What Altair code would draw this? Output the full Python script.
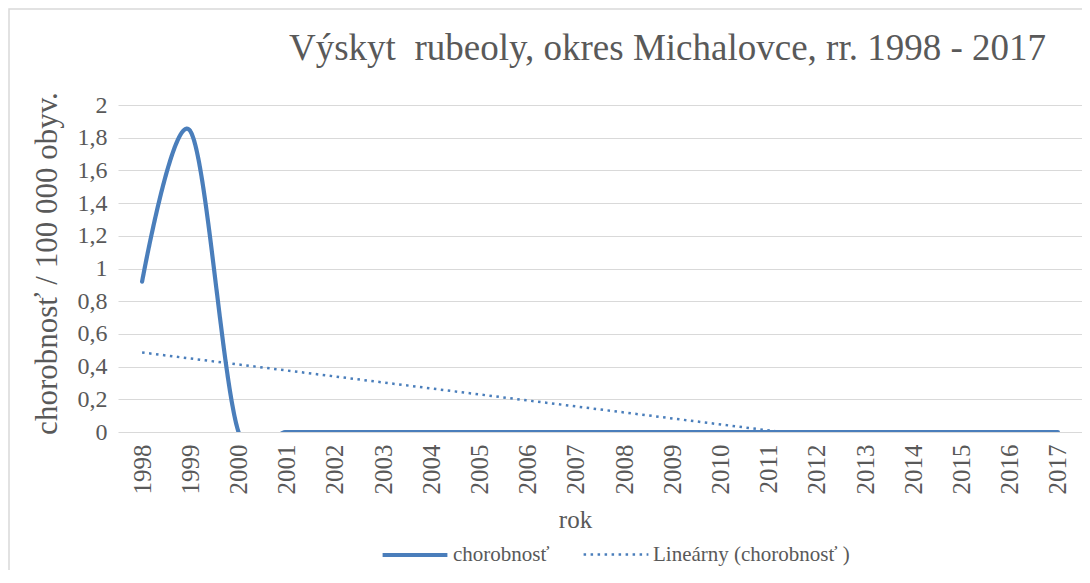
import altair as alt
import pandas as pd

# ---- data ----
years = [1998, 1999, 2000, 2001, 2002, 2003, 2004, 2005, 2006, 2007,
         2008, 2009, 2010, 2011, 2012, 2013, 2014, 2015, 2016, 2017]
incidence = [0.92, 1.84, 0, 0, 0, 0, 0, 0, 0, 0,
             0, 0, 0, 0, 0, 0, 0, 0, 0, 0]
series_names = ["chorobnosť", "Lineárny (chorobnosť )"]
y_ticks = [0, 0.2, 0.4, 0.6, 0.8, 1, 1.2, 1.4, 1.6, 1.8, 2]
title_text = "Výskyt\u00a0 rubeoly, okres Michalovce, rr. 1998 - 2017"

df = pd.DataFrame({"rok": years, "chorobnost": incidence})

BLUE = "#4A7EBB"
FONT = "Liberation Serif"
TXT = "#595959"
GRID = "#d9d9d9"

color_scale = alt.Scale(domain=series_names, range=[BLUE, BLUE])
dash_scale = alt.Scale(domain=series_names, range=[[1, 0], [2.5, 4.5]])
width_scale = alt.Scale(domain=series_names, range=[4.2, 2.5])

legend = alt.Legend(
    title=None, orient="none", legendX=262, legendY=415, direction="horizontal",
    symbolType="stroke", symbolSize=4200, labelFont=FONT, labelFontSize=21,
    labelColor=TXT, columnPadding=28, labelOffset=3, labelLimit=400,
    symbolStrokeColor=BLUE,
)

x_enc = alt.X(
    "rok:Q",
    scale=alt.Scale(domain=[1997.5, 2017.5], nice=False, zero=False),
    axis=alt.Axis(
        values=years, format="d", labelAngle=270, grid=False, ticks=False,
        domain=False, title="rok", labelFont=FONT, labelFontSize=25,
        labelColor=TXT, labelPadding=12, titleFont=FONT, titleFontSize=25,
        titleFontWeight="normal", titleColor=TXT, titleX=457, titleY=95,
        titleBaseline="alphabetic", titleAnchor="start", titleAlign="center",
    ),
)
y_enc = alt.Y(
    "chorobnost:Q",
    scale=alt.Scale(domain=[0, 2], nice=False),
    axis=alt.Axis(
        values=y_ticks, labelExpr="replace(format(datum.value, '.1~f'), '.', ',')",
        grid=True, gridColor=GRID, gridWidth=1, ticks=False, domain=False,
        title="chorobnosť / 100 000 obyv.", labelFont=FONT, labelFontSize=24,
        labelColor=TXT, labelPadding=11, titleFont=FONT, titleFontSize=31,
        titleFontWeight="normal", titleColor=TXT, titleX=-86, titleY=158,
        titleBaseline="top", titleAlign="center", titleAngle=270,
    ),
)

series_enc = dict(
    color=alt.Color("series:N", scale=color_scale, legend=legend),
    strokeDash=alt.StrokeDash("series:N", scale=dash_scale, legend=legend),
    strokeWidth=alt.StrokeWidth("series:N", scale=width_scale, legend=legend),
)

main_line = alt.Chart(df).transform_calculate(
    series=f"'{series_names[0]}'"
).mark_line(
    interpolate="cardinal", clip=True, strokeCap="round"
).encode(x=x_enc, y=y_enc, **series_enc)

trend_line = alt.Chart(df).transform_regression(
    "rok", "chorobnost", method="linear", extent=[1998, 2017]
).transform_calculate(
    series=f"'{series_names[1]}'"
).mark_line(clip=True).encode(x=x_enc, y=y_enc, **series_enc)

frame = alt.Chart(pd.DataFrame({"a": [0]})).mark_rect(
    fillOpacity=0, stroke=GRID, strokeWidth=1.5, clip=False
).encode(
    x=alt.value(-109), x2=alt.value(990), y=alt.value(-96), y2=alt.value(600)
)

chart = alt.layer(frame, trend_line, main_line).properties(
    width=964, height=327,
    title=alt.Title(
        title_text, font=FONT, fontSize=37, fontWeight="normal", color=TXT,
        anchor="start", dx=171, offset=-89, baseline="alphabetic", frame="group",
    ),
    autosize=alt.AutoSizeParams(type="none"),
    padding={"left": 110, "top": 97, "right": 0, "bottom": 138},
).configure_view(stroke=None)

chart.save("out.html", embed_options={"renderer": "svg", "actions": False})
